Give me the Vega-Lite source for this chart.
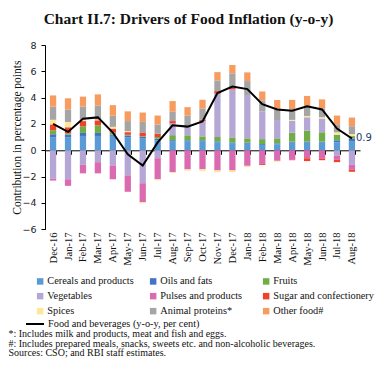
{
  "$schema": "https://vega.github.io/schema/vega-lite/v6.json",
  "width": 315,
  "height": 184.3,
  "autosize": {"type": "none"},
  "padding": {"left": 45, "top": 45, "right": 19, "bottom": 150.7},
  "background": "white",
  "config": {
    "view": {"stroke": null},
    "axisY": {"labelOverlap": false, "labelSeparation": 0, "tickCount": 8},
    "axisQuantitative": {"labelOverlap": false}
  },
  "title": {
    "text": "Chart II.7: Drivers of Food Inflation (y-o-y)",
    "font": "Liberation Serif",
    "fontSize": 15.5,
    "fontWeight": "bold",
    "color": "#111111",
    "anchor": "middle",
    "frame": "group",
    "baseline": "bottom",
    "offset": -2,
    "dx": -14
  },
  "datasets": {
    "bars": [
      {"month": "Dec-16", "category": "Cereals and products", "value": 1.0},
      {"month": "Dec-16", "category": "Oils and fats", "value": 0.22},
      {"month": "Dec-16", "category": "Fruits", "value": 0.3},
      {"month": "Dec-16", "category": "Vegetables", "value": -2.15},
      {"month": "Dec-16", "category": "Pulses and products", "value": -0.15},
      {"month": "Dec-16", "category": "Sugar and confectionery", "value": 0.45},
      {"month": "Dec-16", "category": "Spices", "value": 0.35},
      {"month": "Dec-16", "category": "Animal proteins*", "value": 1.0},
      {"month": "Dec-16", "category": "Other food#", "value": 0.85},
      {"month": "Jan-17", "category": "Cereals and products", "value": 1.0},
      {"month": "Jan-17", "category": "Oils and fats", "value": 0.2},
      {"month": "Jan-17", "category": "Fruits", "value": 0.1},
      {"month": "Jan-17", "category": "Vegetables", "value": -2.2},
      {"month": "Jan-17", "category": "Pulses and products", "value": -0.5},
      {"month": "Jan-17", "category": "Sugar and confectionery", "value": 0.45},
      {"month": "Jan-17", "category": "Spices", "value": 0.4},
      {"month": "Jan-17", "category": "Animal proteins*", "value": 0.95},
      {"month": "Jan-17", "category": "Other food#", "value": 0.85},
      {"month": "Feb-17", "category": "Cereals and products", "value": 1.09},
      {"month": "Feb-17", "category": "Oils and fats", "value": 0.23},
      {"month": "Feb-17", "category": "Fruits", "value": 0.5},
      {"month": "Feb-17", "category": "Vegetables", "value": -1.1},
      {"month": "Feb-17", "category": "Pulses and products", "value": -0.65},
      {"month": "Feb-17", "category": "Sugar and confectionery", "value": 0.4},
      {"month": "Feb-17", "category": "Spices", "value": 0.1},
      {"month": "Feb-17", "category": "Animal proteins*", "value": 1.0},
      {"month": "Feb-17", "category": "Other food#", "value": 0.76},
      {"month": "Mar-17", "category": "Cereals and products", "value": 1.09},
      {"month": "Mar-17", "category": "Oils and fats", "value": 0.23},
      {"month": "Mar-17", "category": "Fruits", "value": 0.58},
      {"month": "Mar-17", "category": "Vegetables", "value": -0.9},
      {"month": "Mar-17", "category": "Pulses and products", "value": -0.85},
      {"month": "Mar-17", "category": "Sugar and confectionery", "value": 0.38},
      {"month": "Mar-17", "category": "Spices", "value": 0.05},
      {"month": "Mar-17", "category": "Animal proteins*", "value": 1.08},
      {"month": "Mar-17", "category": "Other food#", "value": 0.84},
      {"month": "Apr-17", "category": "Cereals and products", "value": 1.1},
      {"month": "Apr-17", "category": "Oils and fats", "value": 0.1},
      {"month": "Apr-17", "category": "Fruits", "value": 0.15},
      {"month": "Apr-17", "category": "Vegetables", "value": -1.15},
      {"month": "Apr-17", "category": "Pulses and products", "value": -1.05},
      {"month": "Apr-17", "category": "Sugar and confectionery", "value": 0.3},
      {"month": "Apr-17", "category": "Spices", "value": 0.13},
      {"month": "Apr-17", "category": "Animal proteins*", "value": 0.85},
      {"month": "Apr-17", "category": "Other food#", "value": 0.8},
      {"month": "May-17", "category": "Cereals and products", "value": 1.0},
      {"month": "May-17", "category": "Oils and fats", "value": 0.13},
      {"month": "May-17", "category": "Fruits", "value": 0.05},
      {"month": "May-17", "category": "Vegetables", "value": -1.9},
      {"month": "May-17", "category": "Pulses and products", "value": -1.25},
      {"month": "May-17", "category": "Sugar and confectionery", "value": 0.2},
      {"month": "May-17", "category": "Spices", "value": 0.08},
      {"month": "May-17", "category": "Animal proteins*", "value": 0.76},
      {"month": "May-17", "category": "Other food#", "value": 0.74},
      {"month": "Jun-17", "category": "Cereals and products", "value": 0.89},
      {"month": "Jun-17", "category": "Oils and fats", "value": 0.13},
      {"month": "Jun-17", "category": "Fruits", "value": 0.05},
      {"month": "Jun-17", "category": "Vegetables", "value": -2.5},
      {"month": "Jun-17", "category": "Pulses and products", "value": -1.45},
      {"month": "Jun-17", "category": "Sugar and confectionery", "value": 0.25},
      {"month": "Jun-17", "category": "Spices", "value": -0.07},
      {"month": "Jun-17", "category": "Animal proteins*", "value": 0.84},
      {"month": "Jun-17", "category": "Other food#", "value": 0.71},
      {"month": "Jul-17", "category": "Cereals and products", "value": 0.76},
      {"month": "Jul-17", "category": "Oils and fats", "value": 0.13},
      {"month": "Jul-17", "category": "Fruits", "value": 0.12},
      {"month": "Jul-17", "category": "Vegetables", "value": -0.6},
      {"month": "Jul-17", "category": "Pulses and products", "value": -1.6},
      {"month": "Jul-17", "category": "Sugar and confectionery", "value": 0.25},
      {"month": "Jul-17", "category": "Spices", "value": -0.07},
      {"month": "Jul-17", "category": "Animal proteins*", "value": 0.7},
      {"month": "Jul-17", "category": "Other food#", "value": 0.68},
      {"month": "Aug-17", "category": "Cereals and products", "value": 0.7},
      {"month": "Aug-17", "category": "Oils and fats", "value": 0.07},
      {"month": "Aug-17", "category": "Fruits", "value": 0.38},
      {"month": "Aug-17", "category": "Vegetables", "value": 0.89},
      {"month": "Aug-17", "category": "Pulses and products", "value": -1.65},
      {"month": "Aug-17", "category": "Sugar and confectionery", "value": 0.18},
      {"month": "Aug-17", "category": "Spices", "value": -0.07},
      {"month": "Aug-17", "category": "Animal proteins*", "value": 0.71},
      {"month": "Aug-17", "category": "Other food#", "value": 0.81},
      {"month": "Sep-17", "category": "Cereals and products", "value": 0.7},
      {"month": "Sep-17", "category": "Oils and fats", "value": 0.06},
      {"month": "Sep-17", "category": "Fruits", "value": 0.38},
      {"month": "Sep-17", "category": "Vegetables", "value": 0.63},
      {"month": "Sep-17", "category": "Pulses and products", "value": -1.45},
      {"month": "Sep-17", "category": "Sugar and confectionery", "value": 0.1},
      {"month": "Sep-17", "category": "Spices", "value": -0.1},
      {"month": "Sep-17", "category": "Animal proteins*", "value": 0.76},
      {"month": "Sep-17", "category": "Other food#", "value": 0.65},
      {"month": "Oct-17", "category": "Cereals and products", "value": 0.7},
      {"month": "Oct-17", "category": "Oils and fats", "value": 0.06},
      {"month": "Oct-17", "category": "Fruits", "value": 0.3},
      {"month": "Oct-17", "category": "Vegetables", "value": 1.14},
      {"month": "Oct-17", "category": "Pulses and products", "value": -1.43},
      {"month": "Oct-17", "category": "Sugar and confectionery", "value": 0.12},
      {"month": "Oct-17", "category": "Spices", "value": -0.15},
      {"month": "Oct-17", "category": "Animal proteins*", "value": 0.84},
      {"month": "Oct-17", "category": "Other food#", "value": 0.68},
      {"month": "Nov-17", "category": "Cereals and products", "value": 0.62},
      {"month": "Nov-17", "category": "Oils and fats", "value": 0.06},
      {"month": "Nov-17", "category": "Fruits", "value": 0.33},
      {"month": "Nov-17", "category": "Vegetables", "value": 3.29},
      {"month": "Nov-17", "category": "Pulses and products", "value": -1.53},
      {"month": "Nov-17", "category": "Sugar and confectionery", "value": 0.2},
      {"month": "Nov-17", "category": "Spices", "value": -0.13},
      {"month": "Nov-17", "category": "Animal proteins*", "value": 0.81},
      {"month": "Nov-17", "category": "Other food#", "value": 0.63},
      {"month": "Dec-17", "category": "Cereals and products", "value": 0.55},
      {"month": "Dec-17", "category": "Oils and fats", "value": 0.05},
      {"month": "Dec-17", "category": "Fruits", "value": 0.38},
      {"month": "Dec-17", "category": "Vegetables", "value": 3.65},
      {"month": "Dec-17", "category": "Pulses and products", "value": -1.53},
      {"month": "Dec-17", "category": "Sugar and confectionery", "value": 0.13},
      {"month": "Dec-17", "category": "Spices", "value": -0.13},
      {"month": "Dec-17", "category": "Animal proteins*", "value": 1.09},
      {"month": "Dec-17", "category": "Other food#", "value": 0.63},
      {"month": "Jan-18", "category": "Cereals and products", "value": 0.5},
      {"month": "Jan-18", "category": "Oils and fats", "value": 0.08},
      {"month": "Jan-18", "category": "Fruits", "value": 0.33},
      {"month": "Jan-18", "category": "Vegetables", "value": 3.29},
      {"month": "Jan-18", "category": "Pulses and products", "value": -1.18},
      {"month": "Jan-18", "category": "Sugar and confectionery", "value": 0.0},
      {"month": "Jan-18", "category": "Spices", "value": -0.1},
      {"month": "Jan-18", "category": "Animal proteins*", "value": 1.06},
      {"month": "Jan-18", "category": "Other food#", "value": 0.66},
      {"month": "Feb-18", "category": "Cereals and products", "value": 0.4},
      {"month": "Feb-18", "category": "Oils and fats", "value": 0.07},
      {"month": "Feb-18", "category": "Fruits", "value": 0.38},
      {"month": "Feb-18", "category": "Vegetables", "value": 2.1},
      {"month": "Feb-18", "category": "Pulses and products", "value": -1.03},
      {"month": "Feb-18", "category": "Sugar and confectionery", "value": -0.08},
      {"month": "Feb-18", "category": "Spices", "value": 0.0},
      {"month": "Feb-18", "category": "Animal proteins*", "value": 0.84},
      {"month": "Feb-18", "category": "Other food#", "value": 0.68},
      {"month": "Mar-18", "category": "Cereals and products", "value": 0.45},
      {"month": "Mar-18", "category": "Oils and fats", "value": 0.08},
      {"month": "Mar-18", "category": "Fruits", "value": 0.38},
      {"month": "Mar-18", "category": "Vegetables", "value": 1.39},
      {"month": "Mar-18", "category": "Pulses and products", "value": -0.8},
      {"month": "Mar-18", "category": "Sugar and confectionery", "value": 0.0},
      {"month": "Mar-18", "category": "Spices", "value": -0.07},
      {"month": "Mar-18", "category": "Animal proteins*", "value": 0.81},
      {"month": "Mar-18", "category": "Other food#", "value": 0.71},
      {"month": "Apr-18", "category": "Cereals and products", "value": 0.58},
      {"month": "Apr-18", "category": "Oils and fats", "value": 0.08},
      {"month": "Apr-18", "category": "Fruits", "value": 0.68},
      {"month": "Apr-18", "category": "Vegetables", "value": 0.89},
      {"month": "Apr-18", "category": "Pulses and products", "value": -0.72},
      {"month": "Apr-18", "category": "Sugar and confectionery", "value": -0.03},
      {"month": "Apr-18", "category": "Spices", "value": 0.08},
      {"month": "Apr-18", "category": "Animal proteins*", "value": 0.81},
      {"month": "Apr-18", "category": "Other food#", "value": 0.71},
      {"month": "May-18", "category": "Cereals and products", "value": 0.58},
      {"month": "May-18", "category": "Oils and fats", "value": 0.08},
      {"month": "May-18", "category": "Fruits", "value": 0.84},
      {"month": "May-18", "category": "Vegetables", "value": 1.01},
      {"month": "May-18", "category": "Pulses and products", "value": -0.6},
      {"month": "May-18", "category": "Sugar and confectionery", "value": -0.22},
      {"month": "May-18", "category": "Spices", "value": 0.1},
      {"month": "May-18", "category": "Animal proteins*", "value": 0.71},
      {"month": "May-18", "category": "Other food#", "value": 0.81},
      {"month": "Jun-18", "category": "Cereals and products", "value": 0.58},
      {"month": "Jun-18", "category": "Oils and fats", "value": 0.08},
      {"month": "Jun-18", "category": "Fruits", "value": 0.71},
      {"month": "Jun-18", "category": "Vegetables", "value": 1.04},
      {"month": "Jun-18", "category": "Pulses and products", "value": -0.65},
      {"month": "Jun-18", "category": "Sugar and confectionery", "value": -0.1},
      {"month": "Jun-18", "category": "Spices", "value": 0.1},
      {"month": "Jun-18", "category": "Animal proteins*", "value": 0.68},
      {"month": "Jun-18", "category": "Other food#", "value": 0.68},
      {"month": "Jul-18", "category": "Cereals and products", "value": 0.6},
      {"month": "Jul-18", "category": "Oils and fats", "value": 0.16},
      {"month": "Jul-18", "category": "Fruits", "value": 0.43},
      {"month": "Jul-18", "category": "Vegetables", "value": -0.42},
      {"month": "Jul-18", "category": "Pulses and products", "value": -0.3},
      {"month": "Jul-18", "category": "Sugar and confectionery", "value": -0.18},
      {"month": "Jul-18", "category": "Spices", "value": 0.18},
      {"month": "Jul-18", "category": "Animal proteins*", "value": 0.56},
      {"month": "Jul-18", "category": "Other food#", "value": 0.71},
      {"month": "Aug-18", "category": "Cereals and products", "value": 0.7},
      {"month": "Aug-18", "category": "Oils and fats", "value": 0.2},
      {"month": "Aug-18", "category": "Fruits", "value": 0.18},
      {"month": "Aug-18", "category": "Vegetables", "value": -1.1},
      {"month": "Aug-18", "category": "Pulses and products", "value": -0.38},
      {"month": "Aug-18", "category": "Sugar and confectionery", "value": -0.15},
      {"month": "Aug-18", "category": "Spices", "value": 0.15},
      {"month": "Aug-18", "category": "Animal proteins*", "value": 0.6},
      {"month": "Aug-18", "category": "Other food#", "value": 0.66}
    ],
    "line": [
      {"month": "Dec-16", "food": 2.0},
      {"month": "Jan-17", "food": 1.4},
      {"month": "Feb-17", "food": 2.4},
      {"month": "Mar-17", "food": 2.5},
      {"month": "Apr-17", "food": 1.35},
      {"month": "May-17", "food": -0.3},
      {"month": "Jun-17", "food": -1.15},
      {"month": "Jul-17", "food": 0.6},
      {"month": "Aug-17", "food": 1.9},
      {"month": "Sep-17", "food": 1.8},
      {"month": "Oct-17", "food": 2.2},
      {"month": "Nov-17", "food": 4.35},
      {"month": "Dec-17", "food": 4.85},
      {"month": "Jan-18", "food": 4.65},
      {"month": "Feb-18", "food": 3.5},
      {"month": "Mar-18", "food": 3.1},
      {"month": "Apr-18", "food": 3.0},
      {"month": "May-18", "food": 3.35},
      {"month": "Jun-18", "food": 3.1},
      {"month": "Jul-18", "food": 1.65},
      {"month": "Aug-18", "food": 0.9}
    ]
  },
  "layer": [
    {
      "data": {"name": "bars"},
      "transform": [
        {"calculate": "indexof(['Cereals and products','Oils and fats','Fruits','Vegetables','Pulses and products','Sugar and confectionery','Spices','Animal proteins*','Other food#'], datum.category)", "as": "k"}
      ],
      "mark": {"type": "bar"},
      "encoding": {
        "x": {
          "field": "month",
          "type": "ordinal",
          "scale": {
            "domain": ["Dec-16","Jan-17","Feb-17","Mar-17","Apr-17","May-17","Jun-17","Jul-17","Aug-17","Sep-17","Oct-17","Nov-17","Dec-17","Jan-18","Feb-18","Mar-18","Apr-18","May-18","Jun-18","Jul-18","Aug-18"],
            "paddingInner": 0.58,
            "paddingOuter": 0.33
          },
          "axis": {
            "offset": -79,
            "domainColor": "black",
            "domainWidth": 1,
            "ticks": true,
            "tickBand": "extent",
            "tickColor": "black",
            "tickSize": 4,
            "labelAngle": -90,
            "labelFont": "Liberation Serif",
            "labelFontSize": 10.5,
            "labelColor": "#111111",
            "labelPadding": 77.7,
            "title": [
              "*: Includes milk and products, meat and fish and eggs.",
              "#: Includes prepared meals, snacks, sweets etc. and non-alcoholic beverages.",
              "Sources: CSO; and RBI staff estimates."
            ],
            "titleFont": "Liberation Serif",
            "titleFontSize": 10,
            "titleFontWeight": "normal",
            "titleColor": "#111111",
            "titleAlign": "left",
            "titleAnchor": "start",
            "titleBaseline": "top",
            "titleLineHeight": 9.6,
            "titleX": -37,
            "titleY": 178.5
          }
        },
        "y": {
          "field": "value",
          "type": "quantitative",
          "stack": "zero",
          "scale": {"domain": [-6, 8], "nice": false},
          "axis": {
            "values": [-6, -4, -2, 0, 2, 4, 6, 8],
            "tickCount": 8,
            "labelOverlap": false,
            "labelSeparation": 0,
            "grid": false,
            "domainColor": "black",
            "tickColor": "black",
            "tickSize": 4,
            "labelFont": "DejaVu Sans",
            "labelFontSize": 9.5,
            "labelColor": "#222222",
            "labelPadding": 5,
            "title": "Contribution in percentage points",
            "titleFont": "Liberation Serif",
            "titleFontSize": 11.5,
            "titleFontWeight": "normal",
            "titleColor": "#111111",
            "titlePadding": 0,
            "titleX": -23
          }
        },
        "order": {"field": "k", "type": "quantitative", "sort": "ascending"},
        "color": {
          "field": "category",
          "type": "nominal",
          "scale": {
            "domain": ["Cereals and products","Oils and fats","Fruits","Vegetables","Pulses and products","Sugar and confectionery","Spices","Animal proteins*","Other food#"],
            "range": ["#5B9BD5","#4472C4","#70AD47","#B4A7D6","#DA6BB0","#F0412A","#FFE699","#A5A5A5","#F79B5E"]
          },
          "legend": {
            "orient": "none",
            "legendX": -10,
            "legendY": 231,
            "title": null,
            "columns": 3,
            "direction": "horizontal",
            "gridAlign": "all",
            "columnPadding": 0,
            "rowPadding": 4,
            "padding": 0,
            "symbolType": "square",
            "symbolSize": 42,
            "symbolStrokeWidth": 0,
            "labelFont": "Liberation Serif",
            "labelFontSize": 10.3,
            "labelColor": "#111111",
            "labelOffset": 2,
            "labelLimit": 200
          }
        }
      }
    },
    {
      "data": {"name": "line"},
      "mark": {"type": "line", "strokeWidth": 2},
      "encoding": {
        "x": {"field": "month", "type": "ordinal"},
        "y": {
          "field": "food",
          "type": "quantitative",
          "axis": {
            "values": [-6, -4, -2, 0, 2, 4, 6, 8],
            "tickCount": 8,
            "labelOverlap": false,
            "labelSeparation": 0,
            "grid": false,
            "domainColor": "black",
            "tickColor": "black",
            "tickSize": 4,
            "labelFont": "DejaVu Sans",
            "labelFontSize": 9.5,
            "labelColor": "#222222",
            "labelPadding": 5,
            "title": "Contribution in percentage points",
            "titleFont": "Liberation Serif",
            "titleFontSize": 11.5,
            "titleFontWeight": "normal",
            "titleColor": "#111111",
            "titlePadding": 0,
            "titleX": -23
          }
        },
        "color": {
          "datum": "Food and beverages (y-o-y, per cent)",
          "type": "nominal",
          "scale": {"range": ["black"]},
          "legend": {
            "orient": "none",
            "legendX": -20,
            "legendY": 269,
            "title": null,
            "padding": 0,
            "symbolType": "stroke",
            "symbolSize": 324,
            "symbolStrokeWidth": 2,
            "labelFont": "Liberation Serif",
            "labelFontSize": 10.3,
            "labelColor": "#111111",
            "labelOffset": 3,
            "labelLimit": 300
          }
        }
      }
    },
    {
      "data": {"name": "line"},
      "transform": [{"filter": "datum.month === 'Aug-18'"}],
      "mark": {"type": "text", "align": "left", "baseline": "middle", "dx": 4, "font": "DejaVu Sans", "fontSize": 10, "color": "#1F3B6B"},
      "encoding": {
        "x": {"field": "month", "type": "ordinal"},
        "y": {
          "field": "food",
          "type": "quantitative",
          "axis": {
            "values": [-6, -4, -2, 0, 2, 4, 6, 8],
            "tickCount": 8,
            "labelOverlap": false,
            "labelSeparation": 0,
            "grid": false,
            "domainColor": "black",
            "tickColor": "black",
            "tickSize": 4,
            "labelFont": "DejaVu Sans",
            "labelFontSize": 9.5,
            "labelColor": "#222222",
            "labelPadding": 5,
            "title": "Contribution in percentage points",
            "titleFont": "Liberation Serif",
            "titleFontSize": 11.5,
            "titleFontWeight": "normal",
            "titleColor": "#111111",
            "titlePadding": 0,
            "titleX": -23
          }
        },
        "text": {"field": "food", "type": "quantitative", "format": ".1f"}
      }
    }
  ],
  "resolve": {"scale": {"color": "independent"}}
}
